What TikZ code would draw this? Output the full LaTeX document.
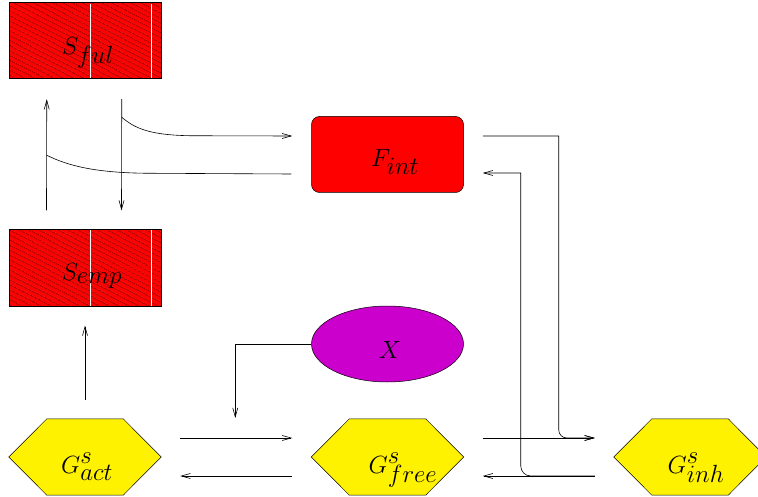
\documentclass[tikz,border=0pt]{standalone}
\usetikzlibrary{arrows.meta,patterns.meta,shapes.geometric,calc}
\definecolor{xmag}{RGB}{204,0,204}
\newcommand{\hexshape}[1]{%
  \draw[hexdraw] (#1.west) -- ($(#1.north west)+(38,0)$) -- ($(#1.north east)+(-38,0)$)
    -- (#1.east) -- ($(#1.south east)+(-38,0)$) -- ($(#1.south west)+(38,0)$) -- cycle;}
\begin{document}
\begin{tikzpicture}[x=1pt,y=-1pt,
  lbl/.style={font=\fontsize{34}{40}\selectfont, anchor=base, inner sep=0pt},
  boxbase/.style={minimum width=152pt, minimum height=76pt, inner sep=0pt},
  hatch/.style={boxbase, draw=black, line width=1pt, preaction={fill=red},
    pattern={Lines[angle=-27,distance=4pt,line width=0.5pt]}, pattern color=black},
  fintbox/.style={boxbase, draw=black, line width=0.5pt, fill=red, rounded corners=8pt},
  xell/.style={boxbase, ellipse, draw=black, line width=0.5pt, fill=xmag},
  hexnode/.style={boxbase},
  hexdraw/.style={draw=black, line width=0.5pt, fill=yellow},
  arr/.style={line width=0.6pt, -{Straight Barb[length=9pt,width=5pt]}},
  ln/.style={line width=0.6pt},
  flaw/.style={white, line width=1.2pt}
]
\useasboundingbox (0,0) rectangle (758,497);

% storage boxes
\node[hatch] (sfid) at (85,41) {};
\node[hatch] (semp) at (85,268) {};
\draw[flaw] ($(sfid.north west)+(82,1)$) -- ($(sfid.south west)+(82,-1)$);
\draw[flaw] ($(sfid.north west)+(143,1)$) -- ($(sfid.south west)+(143,-1)$);
\draw[flaw] ($(semp.north west)+(82,1)$) -- ($(semp.south west)+(82,-1)$);
\draw[flaw] ($(semp.north west)+(143,1)$) -- ($(semp.south west)+(143,-1)$);
\node[lbl] (sfidt) at (88,55) {$S_{ful}$};
\node[lbl] (sempt) at (92,280) {$S_{emp}$};

% F_int and X
\node[fintbox] (fint) at (387.5,154.5) {};
\node[lbl] (fintt) at (395,167) {$F_{int}$};
\node[xell] (x) at (387.5,344) {};
\node[lbl] (xt) at (390,358) {$X$};

% hexagons
\node[hexnode] (gact) at (85,457) {};
\node[hexnode] (gfree) at (387.5,457) {};
\node[hexnode] (ginh) at (690,457) {};
\hexshape{gact}
\hexshape{gfree}
\hexshape{ginh}
\node[lbl] (gactt) at (87,473) {$G^s_{act}$};
\node[lbl] (gfreet) at (403,473) {$G^s_{free}$};
\node[lbl] (ginht) at (696,473) {$G^s_{inh}$};

% merge and corner points
\coordinate (m1) at ($(sfid.south west)+(38,76)$);
\coordinate (m2) at ($(sfid.south west)+(113,38)$);
\coordinate (c1) at ($(fint.east)+(95,-18.5)$);
\coordinate (c1b) at ($(c1 |- ginh.west)+(0,-19)$);
\coordinate (c2) at ($(fint.east)+(57,18.5)$);
\coordinate (c2b) at ($(c2 |- ginh.west)+(0,19)$);

% left column
\draw[arr] ($(semp.north west)+(38,-19)$) -- ($(sfid.south west)+(38,20)$);
\draw[arr] ($(sfid.south west)+(113,20)$) -- ($(semp.north west)+(113,-19)$);
\draw[ln] ($(fint.west)+(-20,19.5)$) -- ($(m1)+(100,18)$)
  .. controls ($(m1)+(50,17.5)$) and ($(m1)+(22,11)$) .. (m1);
\draw[arr] (m2) .. controls ($(m2)+(14,12)$) and ($(m2)+(30,18)$) .. ($(m2)+(70,18.5)$)
  -- ($(fint.west)+(-19,-18.5)$);

% F_int to G_inh and back
\draw[arr] ($(fint.east)+(19,-18.5)$) -- (c1) [rounded corners=8pt] -- (c1b)
  -- ($(ginh.west)+(-19,-19)$);
\draw[arr] ($(ginh.west)+(-19,19)$) [rounded corners=10pt] -- (c2b) [sharp corners]
  -- (c2) -- ($(fint.east)+(19,18.5)$);

% bottom row
\draw[arr] ($(gact.east)+(19,-19)$) -- ($(gfree.west)+(-19,-19)$);
\draw[arr] ($(gfree.west)+(-19,19)$) -- ($(gact.east)+(19,19)$);
\draw[arr] ($(gfree.east)+(19,-19)$) -- ($(ginh.west)+(-19,-19)$);
\draw[arr] ($(ginh.west)+(-19,19)$) -- ($(gfree.east)+(19,19)$);
\draw[arr] (x.west) -| ($(x.west)+(-76,74)$);
\draw[arr] ($(gact.north)+(0,-19)$) -- ($(semp.south)+(0,19)$);
\end{tikzpicture}
\end{document}
